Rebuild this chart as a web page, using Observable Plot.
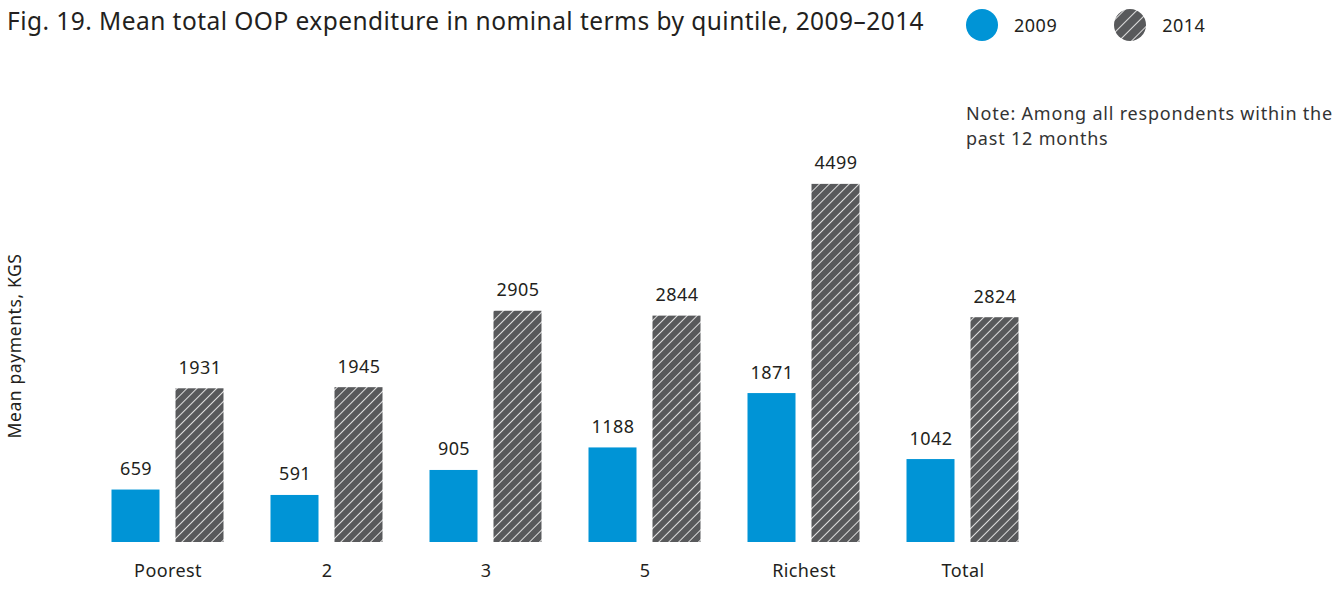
<!DOCTYPE html>
<html>
<head>
<meta charset="utf-8">
<script src="https://cdn.jsdelivr.net/npm/d3@7"></script>
<script src="https://cdn.jsdelivr.net/npm/@observablehq/plot@0.6"></script>
<style>
  html, body { margin: 0; padding: 0; background: #fff; }
  body { width: 1344px; height: 607px; overflow: hidden; font-family: "Noto Sans", sans-serif; color: #231f20; }
  #wrap { position: relative; width: 1344px; height: 607px; }
  #title { position: absolute; left: 7px; top: 4px; font-size: 24.5px; letter-spacing: 0.45px; white-space: nowrap; }
  #legend { position: absolute; left: 965px; top: 8px; display: flex; align-items: center; font-size: 18px; letter-spacing: 0.5px; }
  #legend .item { display: flex; align-items: center; }
  #legend .lab { margin-left: 15px; }
  #note { position: absolute; left: 966px; top: 101px; font-size: 18px; letter-spacing: 0.8px; line-height: 25px; color: #333; white-space: nowrap; }
  #ylab { position: absolute; left: 14px; top: 346px; font-size: 17.5px; letter-spacing: 0.6px; white-space: nowrap; transform: translate(-50%, -50%) rotate(-90deg); }
  #chart { position: absolute; left: 0; top: 0; }
</style>
</head>
<body>
<div id="wrap">
  <div id="chart"></div>
  <div id="title"></div>
  <div id="legend"></div>
  <div id="note"></div>
  <div id="ylab"></div>
</div>
<script>
const titleText = "Fig. 19. Mean total OOP expenditure in nominal terms by quintile, 2009–2014";
const noteText = ["Note: Among all respondents within the", "past 12 months"];
const yLabel = "Mean payments, KGS";
const categories = ["Poorest", "2", "3", "5", "Richest", "Total"];
const years = ["2009", "2014"];
const values2009 = [659, 591, 905, 1188, 1871, 1042];
const values2014 = [1931, 1945, 2905, 2844, 4499, 2824];

const blue = "#0094d6";
const gray = "#58595b";

const data = [];
categories.forEach((c, i) => {
  data.push({cat: c, year: "2009", value: values2009[i]});
  data.push({cat: c, year: "2014", value: values2014[i]});
});

const plot = Plot.plot({
  width: 1344,
  height: 607,
  marginTop: 144,
  marginBottom: 65,
  marginLeft: 87.5,
  marginRight: 302.5,
  style: {fontFamily: "Noto Sans, sans-serif", fontSize: "18px", letterSpacing: "0.4px", color: "#231f20", background: "transparent"},
  fx: {domain: categories, padding: 0, label: null, axis: "bottom", tickSize: 0, tickPadding: 22},
  x: {domain: years, paddingInner: 0.25, paddingOuter: 0.367, axis: null},
  y: {domain: [0, 5000], axis: null},
  color: {domain: years, range: [blue, "url(#hatch14)"]},
  marks: [
    Plot.barY(data, {fx: "cat", x: "year", y: "value", fill: "year"}),
    Plot.text(data, {fx: "cat", x: "year", y: "value", text: d => String(d.value), lineAnchor: "bottom", dy: -15, fontSize: 18, fill: "#231f20"})
  ]
});

const svg = d3.select(plot);
const defs = svg.insert("defs", ":first-child");
const pat = defs.append("pattern")
  .attr("id", "hatch14").attr("patternUnits", "userSpaceOnUse")
  .attr("width", 7).attr("height", 7)
  .attr("patternTransform", "rotate(45)");
pat.append("rect").attr("width", 7).attr("height", 7).attr("fill", gray);
pat.append("line").attr("x1", 0).attr("y1", 0).attr("x2", 0).attr("y2", 7)
  .attr("stroke", "#fff").attr("stroke-width", 1.6);
document.getElementById("chart").appendChild(plot);

document.getElementById("title").textContent = titleText;
document.getElementById("note").innerHTML = noteText.join("<br>");
document.getElementById("ylab").textContent = yLabel;

const legend = d3.select("#legend");
years.forEach((y, i) => {
  const item = legend.append("div").attr("class", "item").style("margin-right", i === 0 ? "56px" : "0");
  const s = item.append("svg").attr("width", 34).attr("height", 34);
  if (i === 1) {
    const p = s.append("defs").append("pattern")
      .attr("id", "hatchLeg").attr("patternUnits", "userSpaceOnUse")
      .attr("width", 9).attr("height", 9).attr("patternTransform", "rotate(45)");
    p.append("rect").attr("width", 9).attr("height", 9).attr("fill", gray);
    p.append("line").attr("x1", 0).attr("y1", 0).attr("x2", 0).attr("y2", 9)
      .attr("stroke", "#fff").attr("stroke-width", 1.6);
  }
  s.append("circle").attr("cx", 17).attr("cy", 17).attr("r", 16)
    .attr("fill", i === 0 ? blue : "url(#hatchLeg)");
  item.append("span").attr("class", "lab").text(y);
});
</script>
</body>
</html>
